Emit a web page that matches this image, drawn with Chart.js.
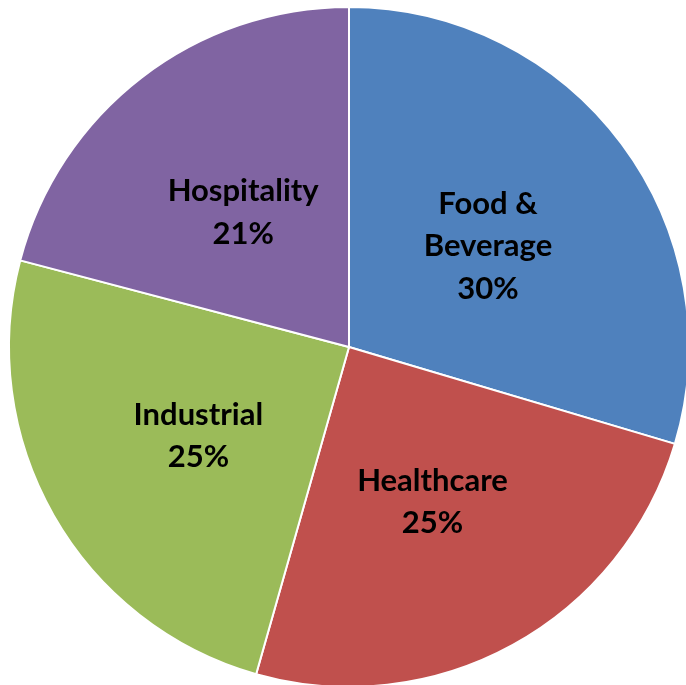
<!DOCTYPE html>
<html>
<head>
<meta charset="utf-8">
<script src="https://cdn.jsdelivr.net/npm/chart.js@4"></script>
<style>
  html, body { margin: 0; padding: 0; background: #fff; overflow: hidden; }
  #pieChart { position: absolute; left: 0; top: 0; }
</style>
</head>
<body>
<canvas id="pieChart" width="700" height="700"></canvas>
<script>
var sectors = ['Food & Beverage', 'Healthcare', 'Industrial', 'Hospitality'];
var shares = [29.6, 24.8, 24.7, 20.9];
var sliceColors = ['#4F81BD', '#C0504D', '#9BBB59', '#8064A2'];

// wrap a label into lines no wider than maxW
function wrapText(ctx, text, maxW) {
    var words = text.split(' ');
    var lines = [];
    var cur = '';
    words.forEach(function (w) {
        var test = cur ? cur + ' ' + w : w;
        if (cur && ctx.measureText(test).width > maxW) {
            lines.push(cur);
            cur = w;
        } else {
            cur = test;
        }
    });
    if (cur) lines.push(cur);
    return lines;
}

var sliceLabels = {
    id: 'sliceLabels',
    afterDatasetsDraw: function (chart) {
        var ctx = chart.ctx;
        var meta = chart.getDatasetMeta(0);
        ctx.save();
        ctx.font = 'bold 31px Lato';
        ctx.fillStyle = '#000';
        ctx.textAlign = 'center';
        ctx.textBaseline = 'middle';
        meta.data.forEach(function (arc, i) {
            var p = arc.getProps(['x', 'y', 'startAngle', 'endAngle', 'outerRadius'], true);
            var mid = (p.startAngle + p.endAngle) / 2;
            var r = p.outerRadius * 0.51;
            var cx = p.x + Math.cos(mid) * r;
            var cy = p.y + Math.sin(mid) * r + 3;
            var lines = wrapText(ctx, sectors[i], 170);
            lines.push(Math.round(shares[i]) + '%');
            var lh = 42.5;
            var y0 = cy - (lines.length - 1) * lh / 2;
            lines.forEach(function (ln, k) {
                ctx.fillText(ln, cx, y0 + k * lh);
            });
        });
        ctx.restore();
    }
};

var ctx = document.getElementById('pieChart').getContext('2d');
new Chart(ctx, {
    type: 'pie',
    data: {
        labels: sectors,
        datasets: [{
            data: shares,
            backgroundColor: sliceColors,
            borderColor: '#ffffff',
            borderWidth: 2
        }]
    },
    options: {
        responsive: false,
        animation: false,
        layout: { padding: { left: 8, top: 6, right: 10, bottom: 12 } },
        plugins: {
            legend: { display: false },
            tooltip: { enabled: false }
        }
    },
    plugins: [sliceLabels]
});
</script>
</body>
</html>
